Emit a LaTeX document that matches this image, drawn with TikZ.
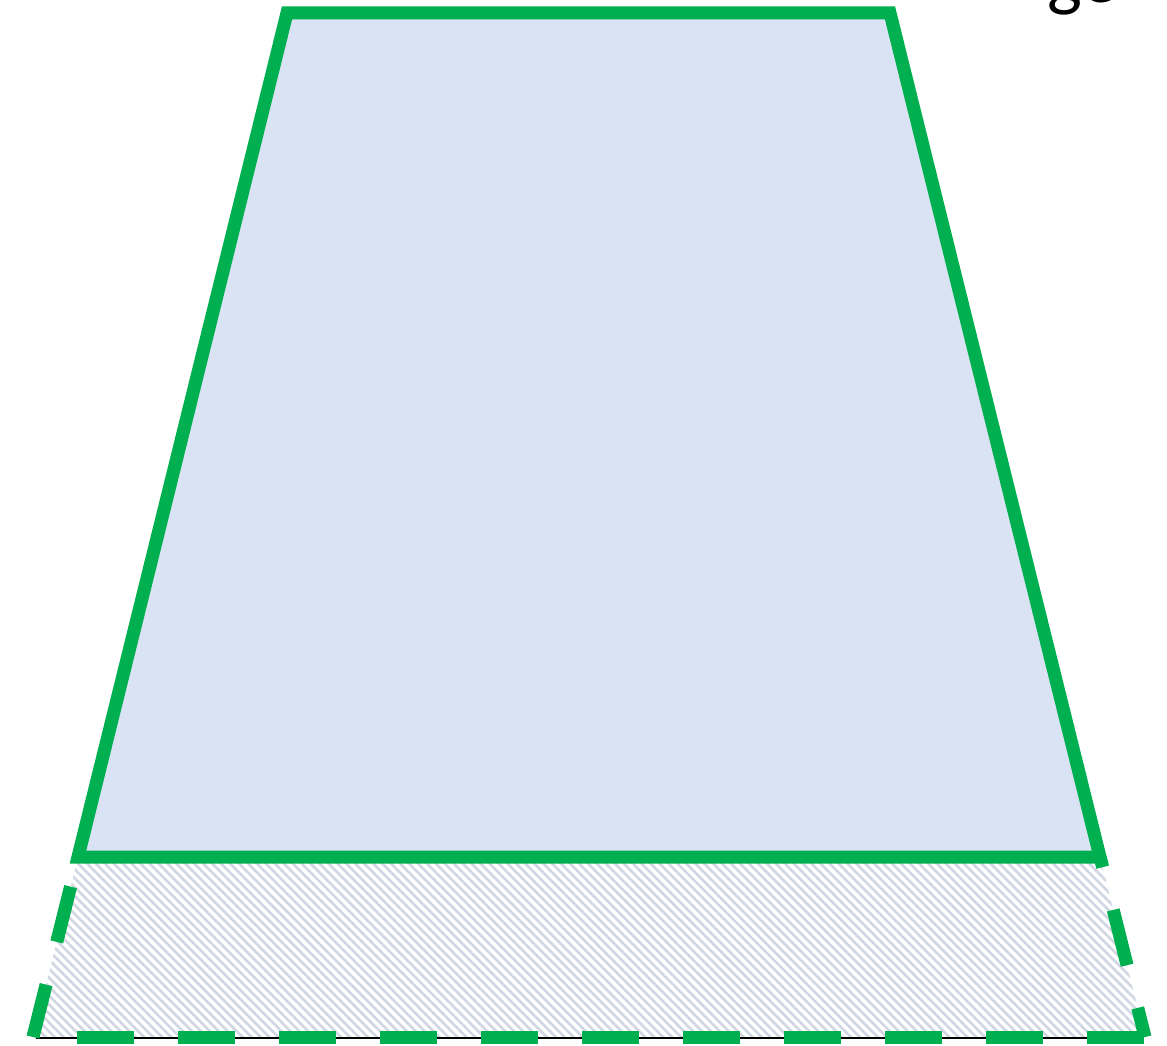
\documentclass[tikz,border=0pt]{standalone}
\usepackage{fontspec}
\setmainfont{Carlito}
\usepackage{xcolor}
\usepackage{tikz}
\usetikzlibrary{patterns.meta,calc}
\definecolor{greenline}{HTML}{00B050}
\definecolor{bluefill}{HTML}{DAE3F3}
\definecolor{hatchgrey}{HTML}{D0D7E2}
\tikzset{
  solidedge/.style={draw=greenline, line width=0.13cm, line join=miter},
  dashededge/.style={draw=greenline, line width=0.13cm,
    dash pattern=on 0.57cm off 0.44cm, dash phase=#1},
  dashededge/.default=0cm,
  hatcharea/.style={
    pattern={Lines[angle=-45, distance=1.8pt, line width=0.75pt]},
    pattern color=hatchgrey
  }
}

\begin{document}
\begin{tikzpicture}
\useasboundingbox (0,0) rectangle (11.67,10.45);
% corners of the section
\coordinate (tl) at (2.87,10.32);
\coordinate (tr) at (8.90,10.32);
\coordinate (br) at (11.00,1.88);
\coordinate (bl) at (0.78,1.88);
\coordinate (lbl) at (0.33,0.08);
\coordinate (lbr) at (11.45,0.08);

\fill[hatcharea] (bl) -- (lbl) -- (lbr) -- (br) -- cycle;
\draw[black, line width=0.4pt] ($(lbl)+(0.03,-0.01)$) coordinate (lineA) -- ($(lbr)+(-0.05,-0.01)$) coordinate (lineB);
\fill[bluefill] (tl) -- (tr) -- (br) -- (bl) -- cycle;

\draw[dashededge=0.03cm] (lbl) -- (bl);
\draw[dashededge=0.57cm] (lbl) -- (lbr);
\draw[dashededge=0.27cm] (lbr) -- (br);

\draw[solidedge] (tl) -- (tr) -- (br) -- (bl) -- cycle;

\node[anchor=base west, font=\fontsize{21}{23}\selectfont, inner sep=0pt] (caption) at (10.47,10.42) {ge};
\end{tikzpicture}
\end{document}
